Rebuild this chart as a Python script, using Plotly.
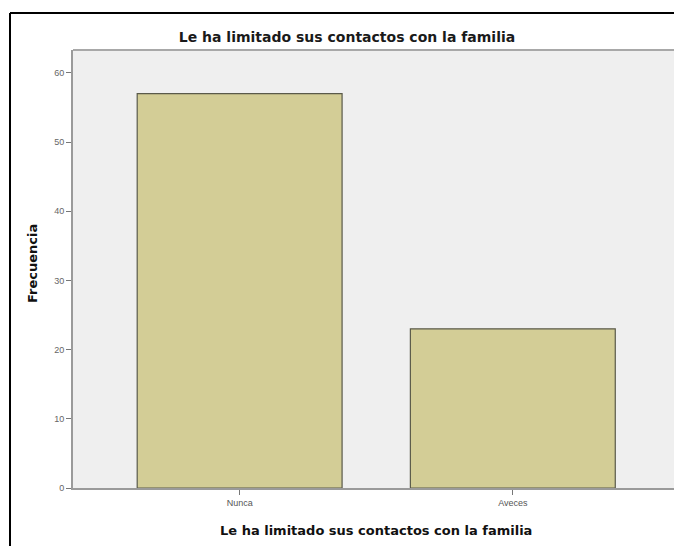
import plotly.graph_objects as go

categories = ["Nunca", "Aveces"]
frecuencia = [57, 23]
y_ticks = [0, 10, 20, 30, 40, 50, 60]
title_text = "Le ha limitado sus contactos con la familia"
x_title = "Le ha limitado sus contactos con la familia"
y_title = "Frecuencia"

W, H = 674, 546
L, T, B = 73, 50, 58
pw = W - L
ph = H - T - B

def px_x(p):
    return (p - L) / pw

def px_y(p):
    return (H - B - p) / ph

fig = go.Figure()
fig.add_trace(go.Bar(
    x=[0, 1], y=frecuencia, width=0.75,
    marker=dict(color="#d3cd96", line=dict(color="#5a5a4a", width=1.2)),
    hoverinfo="skip",
))

fig.update_layout(
    width=W, height=H,
    margin=dict(l=L, r=0, t=T, b=B),
    paper_bgcolor="white",
    plot_bgcolor="#efefef",
    showlegend=False,
    font=dict(family="Liberation Sans, Arial, sans-serif", color="#222"),
    title=dict(text="<b>" + title_text + "</b>", x=px_x(347), xref="paper", xanchor="center",
               y=1 - 37 / H, yref="container", yanchor="middle",
               font=dict(family="DejaVu Sans", size=14, color="#1a1a1a")),
    xaxis=dict(
        range=[-0.61, 1.59], tickmode="array", tickvals=[0, 1], ticktext=categories,
        ticks="outside", ticklen=5, tickcolor="#777", showgrid=False, zeroline=False,
        showline=True, linecolor="#9a9a9a", linewidth=2,
        tickfont=dict(size=9, color="#555"),
    ),
    yaxis=dict(
        range=[0, 63.3], tickmode="array", tickvals=y_ticks,
        ticks="outside", ticklen=5, tickcolor="#777", showgrid=False, zeroline=False,
        showline=True, linecolor="#9a9a9a", linewidth=2,
        tickfont=dict(size=9, color="#666"),
    ),
    bargap=0.25,
)

# top border of the plot area
fig.add_shape(type="line", xref="paper", yref="paper", x0=0, x1=1, y0=1, y1=1,
              line=dict(color="#a8a8a8", width=2))
# outer black frame (top and left edges visible in the view)
fig.add_shape(type="line", xref="paper", yref="paper",
              x0=px_x(10), x1=px_x(720), y0=px_y(13), y1=px_y(13),
              line=dict(color="black", width=2), layer="above")
fig.add_shape(type="line", xref="paper", yref="paper",
              x0=px_x(10), x1=px_x(10), y0=px_y(13), y1=px_y(600),
              line=dict(color="black", width=2), layer="above")

fig.add_annotation(text="<b>" + x_title + "</b>", xref="paper", yref="paper",
                   x=px_x(376), y=px_y(530), showarrow=False, xanchor="center", yanchor="middle",
                   font=dict(family="DejaVu Sans", size=13, color="#111"))
fig.add_annotation(text="<b>" + y_title + "</b>", xref="paper", yref="paper",
                   x=px_x(32), y=px_y(264), showarrow=False, xanchor="center", yanchor="middle",
                   textangle=-90, font=dict(family="DejaVu Sans", size=13, color="#111"))

fig.write_html("out.html", config={"displayModeBar": False},
               post_script=("document.documentElement.style.overflow='hidden';"
                            "document.body.style.margin='0';"
                            "document.body.style.overflow='hidden';"))
